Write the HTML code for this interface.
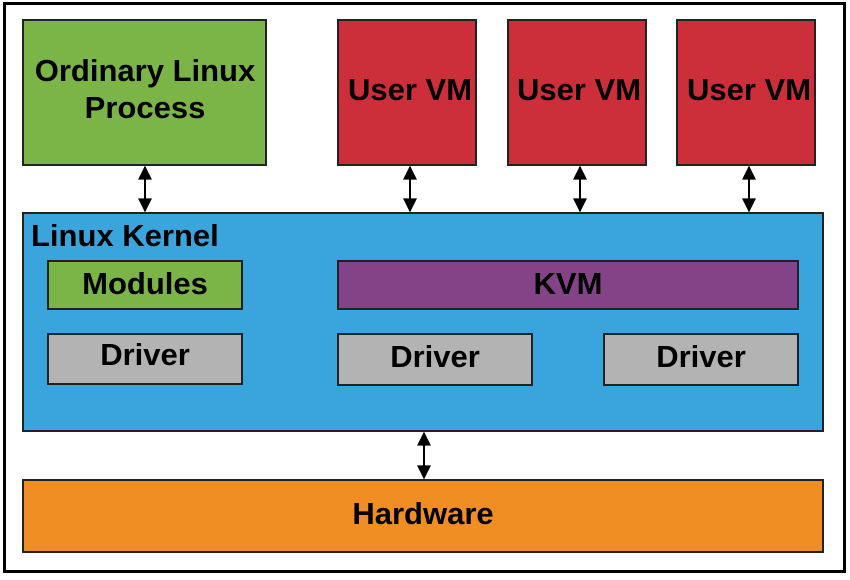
<!DOCTYPE html>
<html><head><style>body{margin:0;background:#fff}</style></head><body>
<svg width="850" height="575" xmlns="http://www.w3.org/2000/svg" font-family="Liberation Sans, sans-serif" font-weight="bold" font-size="31">
<defs><marker id="a" viewBox="0 0 10 10" refX="9" refY="5" markerWidth="7.5" markerHeight="7" orient="auto-start-reverse" markerUnits="strokeWidth"><path d="M0,0L10,5L0,10z" fill="#000"/></marker></defs>
<rect x="4.5" y="3.5" width="840" height="568" fill="#fff" stroke="#000" stroke-width="3"/>
<rect x="23" y="20" width="243" height="145" fill="#7bb547" stroke="#222" stroke-width="2"/>
<text x="145" y="81" text-anchor="middle">Ordinary Linux</text>
<text x="145" y="118" text-anchor="middle">Process</text>
<g fill="#cc2e3a" stroke="#222" stroke-width="2">
<rect x="338" y="20" width="138" height="145"/><rect x="508" y="20" width="138" height="145"/><rect x="677" y="20" width="138" height="145"/></g>
<text x="410" y="100" text-anchor="middle">User VM</text>
<text x="579" y="100" text-anchor="middle">User VM</text>
<text x="749" y="100" text-anchor="middle">User VM</text>
<rect x="23" y="213" width="800" height="218" fill="#3aa4dd" stroke="#222" stroke-width="2"/>
<text x="31" y="246">Linux Kernel</text>
<rect x="48" y="261" width="194" height="48" fill="#7bb547" stroke="#222" stroke-width="2"/>
<text x="145" y="294" text-anchor="middle">Modules</text>
<rect x="338" y="261" width="460" height="48" fill="#844287" stroke="#222" stroke-width="2"/>
<text x="568" y="294" text-anchor="middle">KVM</text>
<g fill="#b3b3b3" stroke="#222" stroke-width="2">
<rect x="48" y="334" width="194" height="50"/><rect x="338" y="334" width="194" height="51"/><rect x="604" y="334" width="194" height="51"/></g>
<text x="145" y="365" text-anchor="middle">Driver</text>
<text x="435" y="367" text-anchor="middle">Driver</text>
<text x="701" y="367" text-anchor="middle">Driver</text>
<rect x="23" y="480" width="800" height="72" fill="#f08e24" stroke="#222" stroke-width="2"/>
<text x="423" y="524" text-anchor="middle">Hardware</text>
<g stroke="#000" stroke-width="2" marker-start="url(#a)" marker-end="url(#a)">
<line x1="145" y1="167" x2="145" y2="211"/><line x1="410" y1="167" x2="410" y2="211"/>
<line x1="580" y1="167" x2="580" y2="211"/><line x1="749" y1="167" x2="749" y2="211"/>
<line x1="424" y1="433" x2="424" y2="478"/></g>
</svg>
</body></html>
